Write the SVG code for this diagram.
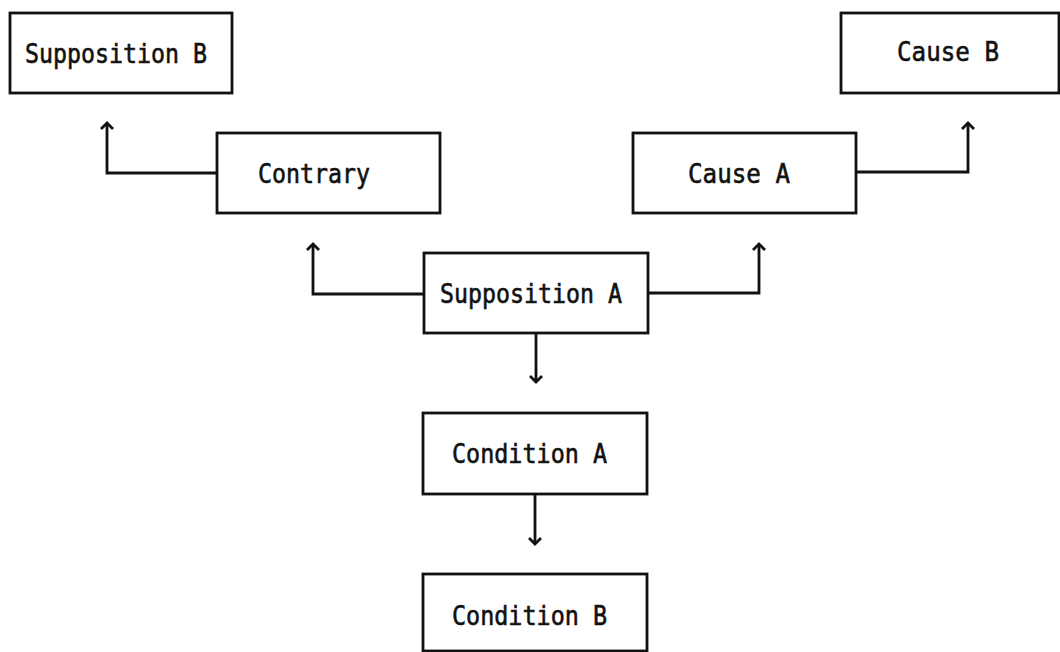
<svg xmlns="http://www.w3.org/2000/svg" width="1060" height="652" viewBox="0 0 1060 652">
<style>
.box{fill:#fff;stroke:#111;stroke-width:2.8}
.lbl{font-family:"DejaVu Sans Mono","Liberation Mono",monospace;font-size:27px;fill:#111;stroke:#111;stroke-width:0.6}
.edge{fill:none;stroke:#111;stroke-width:2.8}
</style>
<defs>
<marker id="ah" markerUnits="userSpaceOnUse" markerWidth="16" markerHeight="16" viewBox="-8 -8 16 16" refX="0" refY="0" orient="auto">
<path d="M-6,-6 L0,0 L-6,6" fill="none" stroke="#111" stroke-width="2.8"/>
</marker>
</defs>
<rect width="1060" height="652" fill="#fff"/>
<g id="connectors">
<path class="edge" d="M217,173 H107 V123" marker-end="url(#ah)"/>
<path class="edge" d="M424,294 H313 V244" marker-end="url(#ah)"/>
<path class="edge" d="M648,293 H759 V244" marker-end="url(#ah)"/>
<path class="edge" d="M856,172 H968 V123" marker-end="url(#ah)"/>
<path class="edge" d="M536,333 V382" marker-end="url(#ah)"/>
<path class="edge" d="M535,494 V544" marker-end="url(#ah)"/>
</g>
<g id="supposition-b">
<rect class="box" x="10" y="13" width="222" height="80"/>
<text class="lbl" x="25" y="63" textLength="182" lengthAdjust="spacingAndGlyphs">Supposition B</text>
</g>
<g id="cause-b">
<rect class="box" x="841" y="13" width="218" height="80"/>
<text class="lbl" x="897" y="61" textLength="102" lengthAdjust="spacingAndGlyphs">Cause B</text>
</g>
<g id="contrary">
<rect class="box" x="217" y="133" width="223" height="80"/>
<text class="lbl" x="258" y="183" textLength="112" lengthAdjust="spacingAndGlyphs">Contrary</text>
</g>
<g id="cause-a">
<rect class="box" x="633" y="133" width="223" height="80"/>
<text class="lbl" x="688" y="183" textLength="102" lengthAdjust="spacingAndGlyphs">Cause A</text>
</g>
<g id="supposition-a">
<rect class="box" x="424" y="253" width="224" height="80"/>
<text class="lbl" x="440" y="303" textLength="182" lengthAdjust="spacingAndGlyphs">Supposition A</text>
</g>
<g id="condition-a">
<rect class="box" x="423" y="413" width="224" height="81"/>
<text class="lbl" x="452" y="463" textLength="155" lengthAdjust="spacingAndGlyphs">Condition A</text>
</g>
<g id="condition-b">
<rect class="box" x="423" y="574" width="224" height="77"/>
<text class="lbl" x="452" y="625" textLength="155" lengthAdjust="spacingAndGlyphs">Condition B</text>
</g>
</svg>
